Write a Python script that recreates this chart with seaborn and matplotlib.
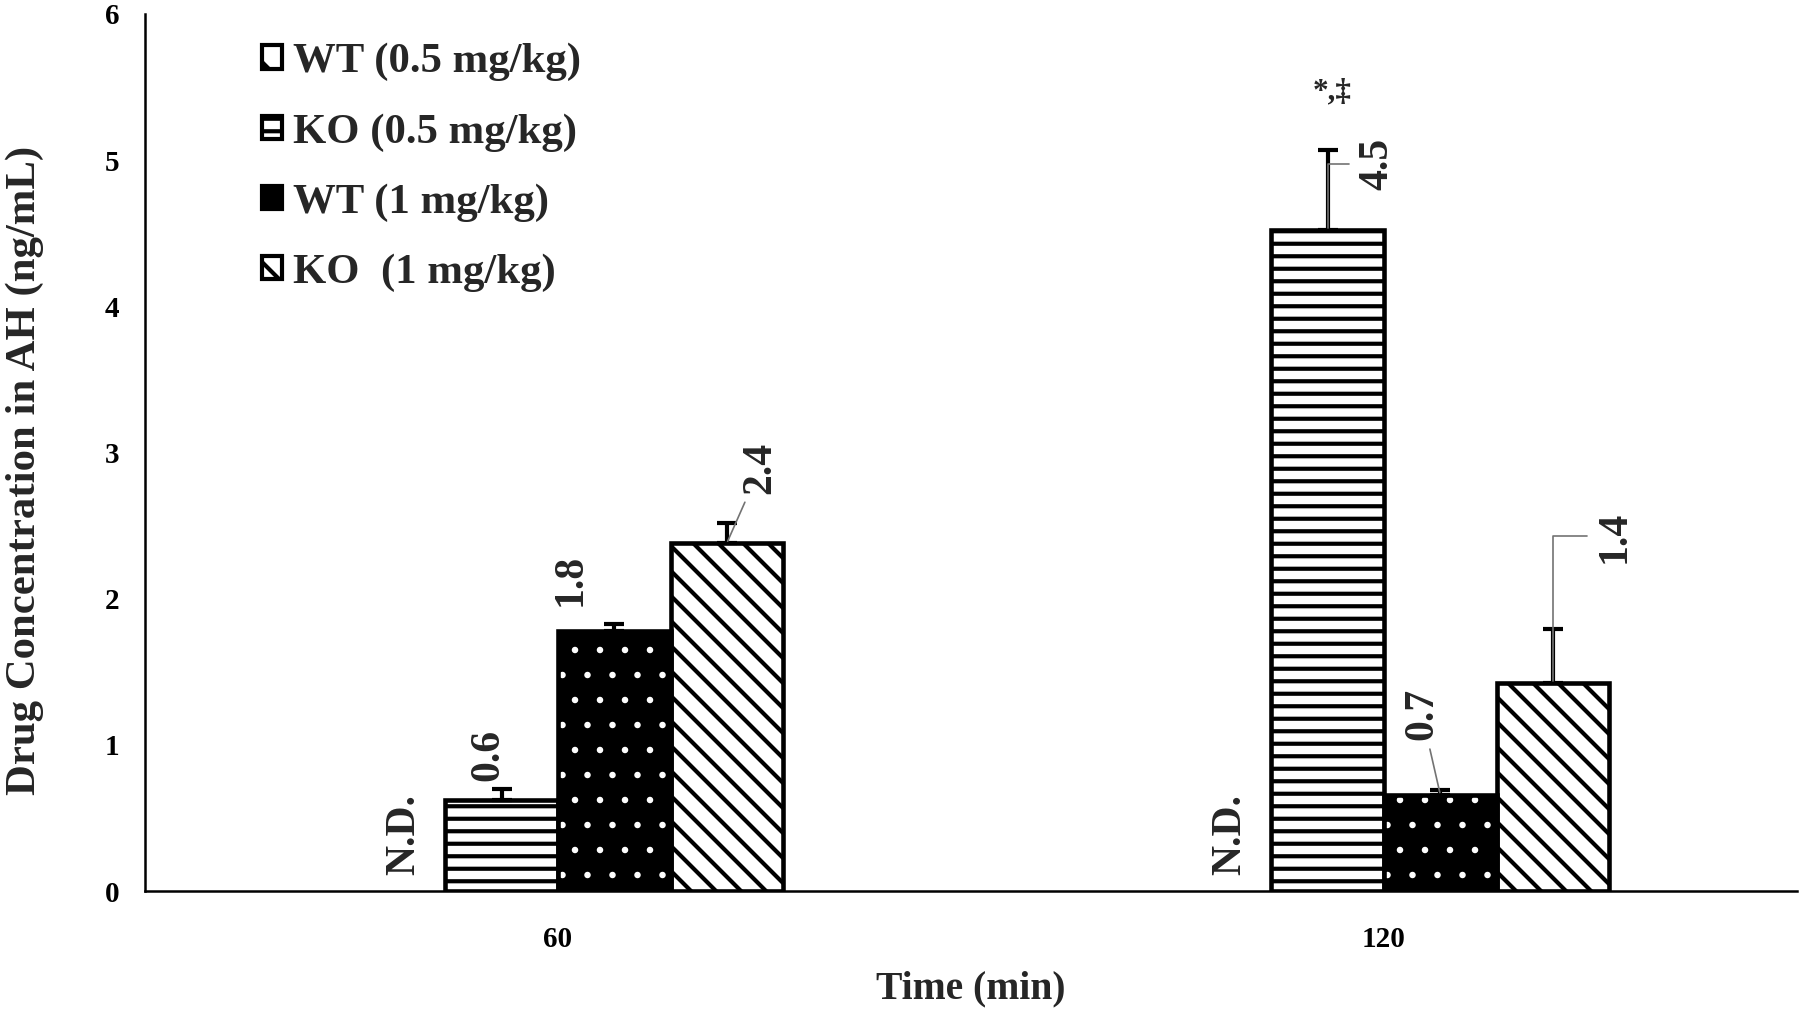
import pandas as pd
import seaborn as sns
import matplotlib.pyplot as plt
from matplotlib.patches import Patch, Rectangle

# data
times = ['60', '120']
groups = ['WT (0.5 mg/kg)', 'KO (0.5 mg/kg)', 'WT (1 mg/kg)', 'KO  (1 mg/kg)']
wt_low = [0.0, 0.0]          # not detected
ko_low = [0.62, 4.52]
wt_high = [1.78, 0.66]
ko_high = [2.38, 1.42]
wt_low_err = [0.0, 0.0]
ko_low_err = [0.08, 0.55]
wt_high_err = [0.05, 0.03]
ko_high_err = [0.14, 0.37]
ko_low_sig = ['', '*,\u2021']

means = [wt_low, ko_low, wt_high, ko_high]
errs = [wt_low_err, ko_low_err, wt_high_err, ko_high_err]

rows = []
for g, vals in zip(groups, means):
    for t, v in zip(times, vals):
        rows.append({'time': t, 'group': g, 'conc': v})
df = pd.DataFrame(rows)

sns.set_style('white')
plt.rcParams['font.family'] = ['Liberation Serif', 'DejaVu Serif']
plt.rcParams['font.weight'] = 'bold'
plt.rcParams['axes.labelweight'] = 'bold'
plt.rcParams['hatch.linewidth'] = 2.0

fig, ax = plt.subplots(figsize=(12, 1009 / 150), dpi=150)
fig.subplots_adjust(left=145 / 1800, right=1797 / 1800, bottom=118 / 1009, top=995 / 1009)

sns.barplot(data=df, x='time', y='conc', hue='group', order=times, hue_order=groups,
            width=0.545, gap=0, errorbar=None, legend=False, saturation=1,
            palette=['white'] * 4, ax=ax)

bar_styles = [
    dict(facecolor='white', edgecolor='black', hatch='', hlw=2.0),
    dict(facecolor='white', edgecolor='black', hatch='--', hlw=2.0),
    dict(facecolor='black', edgecolor='white', hatch='.', hlw=0.7),
    dict(facecolor='white', edgecolor='black', hatch='\\\\', hlw=2.0),
]

# label offsets (points) relative to bar top, and leader line style
label_spots = {
    (1, 0): (-6.6, 9.4, None),
    (2, 0): (-21, 12, None),
    (3, 0): (16, 23.7, 'arc3'),
    (1, 1): (23.7, 19.3, 'angle,angleA=0,angleB=90,rad=0'),
    (2, 1): (-8.8, 26, 'arc3'),
    (3, 1): (29.8, 58, 'angle,angleA=0,angleB=90,rad=0'),
}

bar_conts = list(ax.containers)
for i, cont in enumerate(bar_conts):
    for j, p in enumerate(cont.patches):
        cx = p.get_x() + p.get_width() / 2
        top = p.get_height()
        if i == 0:
            p.set_visible(False)
            ax.annotate('N.D.', xy=(cx, 0), xytext=(7, 7.7), textcoords='offset points',
                        rotation=90, ha='center', va='bottom', fontsize=20)
            continue
        st = bar_styles[i]
        p.set_facecolor(st['facecolor'])
        p.set_edgecolor(st['edgecolor'])
        p.set_hatch(st['hatch'])
        if hasattr(p, 'set_hatch_linewidth'):
            p.set_hatch_linewidth(st['hlw'])
        if i == 2:
            p.set_linewidth(0)
            ax.add_patch(Rectangle((p.get_x(), p.get_y()), p.get_width(), top,
                                   fill=False, edgecolor='black', linewidth=2.2, zorder=p.get_zorder() + 0.1))
        else:
            p.set_linewidth(2.2)

        ax.errorbar([cx], [top], yerr=[[0], [errs[i][j]]], fmt='none', ecolor='black',
                    elinewidth=2, capsize=5, capthick=2, zorder=3)

        dx, dy, conn = label_spots[(i, j)]
        arrow = None
        if conn is not None:
            arrow = dict(arrowstyle='-', color='0.45', lw=0.8, shrinkA=2, shrinkB=1,
                         connectionstyle=conn)
        ax.annotate(f'{means[i][j]:.1f}', xy=(cx, top), xytext=(dx, dy),
                    textcoords='offset points', rotation=90, ha='center', va='bottom',
                    fontsize=20, arrowprops=arrow)

        if i == 1 and ko_low_sig[j]:
            ax.annotate(ko_low_sig[j], xy=(cx, top + errs[i][j]), xytext=(2, 28),
                        textcoords='offset points', ha='center', va='center', fontsize=15)

ax.set_xlim(-0.5, 1.5)
ax.set_ylim(0, 6)
ax.set_yticks(range(7))

sns.despine(ax=ax)
for s in ['left', 'bottom']:
    ax.spines[s].set_linewidth(1.2)
    ax.spines[s].set_color('black')

ax.tick_params(axis='y', direction='out', length=4.4, width=1.2, pad=8, labelsize=14, colors='black')
ax.tick_params(axis='x', length=0, pad=17, labelsize=14, colors='black')

ax.set_xlabel('Time (min)', fontsize=19, fontweight='bold')
ax.set_ylabel('Drug Concentration in AH (ng/mL)', fontsize=20.5, fontweight='bold')
ax.xaxis.set_label_coords(0.5, -0.09)
ax.yaxis.set_label_coords(-0.061, 0.48)

handles = [
    Patch(facecolor='white', edgecolor='black', hatch='x', linewidth=2),
    Patch(facecolor='white', edgecolor='black', hatch='--', linewidth=2),
    Patch(facecolor='black', edgecolor='black', linewidth=2),
    Patch(facecolor='white', edgecolor='black', hatch='\\', linewidth=2),
]
ax.legend(handles, groups, loc='upper left', bbox_to_anchor=(262 / 1800, 1 - 43 / 1009),
          bbox_transform=fig.transFigure, frameon=False, fontsize=20.5,
          handlelength=0.47, handleheight=0.47, handletextpad=0.25,
          labelspacing=0.74, borderpad=0, borderaxespad=0)

fig.savefig('out.png', dpi=150)
